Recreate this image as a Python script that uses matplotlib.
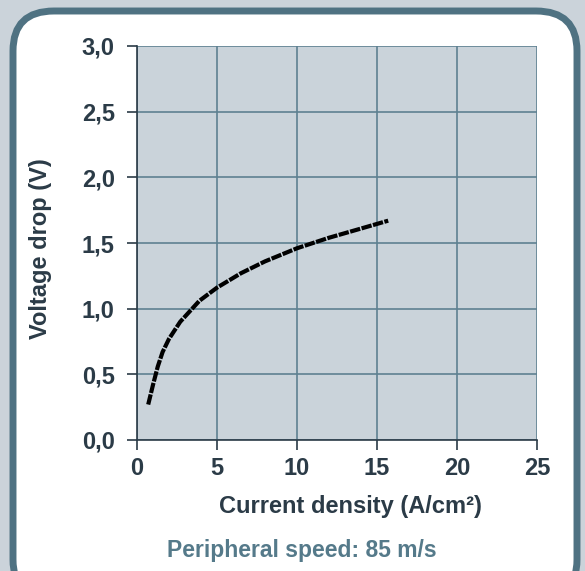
import matplotlib.pyplot as plt
from matplotlib.patches import FancyBboxPatch
from matplotlib.ticker import FuncFormatter

plt.rcParams['font.family'] = ['Liberation Sans', 'DejaVu Sans']

# curve
current_density = [0.7, 1.0, 1.3, 1.6, 2.0, 2.7, 3.9, 5.0, 6.5, 8.0, 10.0, 12.0, 14.0, 15.7]
voltage_drop = [0.27, 0.42, 0.56, 0.67, 0.77, 0.90, 1.06, 1.16, 1.27, 1.36, 1.46, 1.54, 1.61, 1.67]

xticks = [0, 5, 10, 15, 20, 25]
yticks = [0.0, 0.5, 1.0, 1.5, 2.0, 2.5, 3.0]

dark = '#2b3b47'
grid_col = '#5f8191'
frame_col = '#4f7282'

fig = plt.figure(figsize=(5.85, 5.71), dpi=100)
fig.patch.set_facecolor('#cbd3da')

box = FancyBboxPatch((13 / 585, -0.05), 564 / 585, 1 - 11 / 571 + 0.05,
                     boxstyle='round,pad=0,rounding_size=0.07',
                     transform=fig.transFigure, facecolor='white',
                     edgecolor=frame_col, linewidth=5, zorder=-5)
fig.patches.append(box)

ax = fig.add_axes([137 / 585, 1 - 440 / 571, 400 / 585, 394 / 571])
ax.set_facecolor('#cad3da')
ax.set_xlim(0, 25)
ax.set_ylim(0, 3)
ax.set_xticks(xticks)
ax.set_yticks(yticks)
ax.yaxis.set_major_formatter(FuncFormatter(lambda v, p: f'{v:.1f}'.replace('.', ',')))
ax.grid(True, color=grid_col, linewidth=1.2)
ax.set_axisbelow(True)
for s in ['top', 'right']:
    ax.spines[s].set_visible(False)
for s in ['left', 'bottom']:
    ax.spines[s].set_color(dark)
    ax.spines[s].set_linewidth(1.2)
ax.tick_params(direction='out', length=7, width=1.2, color=dark,
               labelsize=17, labelcolor=dark)
ax.tick_params(axis='y', pad=9)
ax.tick_params(axis='x', pad=5)
for lab in ax.get_xticklabels() + ax.get_yticklabels():
    lab.set_fontweight('bold')

ax.plot(current_density, voltage_drop, color='black', linewidth=3,
        linestyle=(0, (2.5, 0.35)), solid_capstyle='round', zorder=3)

fig.text(40 / 585, 1 - 249 / 571, 'Voltage drop (V)', fontsize=17, rotation=90,
         fontweight='bold', color=dark, ha='center', va='center')
fig.text(350 / 585, 1 - 507 / 571, 'Current density (A/cm²)', fontsize=17,
         fontweight='bold', color=dark, ha='center', va='center')
fig.text(302 / 585, 1 - 551 / 571, 'Peripheral speed: 85 m/s', fontsize=16.5,
         fontweight='bold', color='#557a8a', ha='center', va='center')

fig.savefig('out.png', dpi=100, facecolor=fig.get_facecolor())
